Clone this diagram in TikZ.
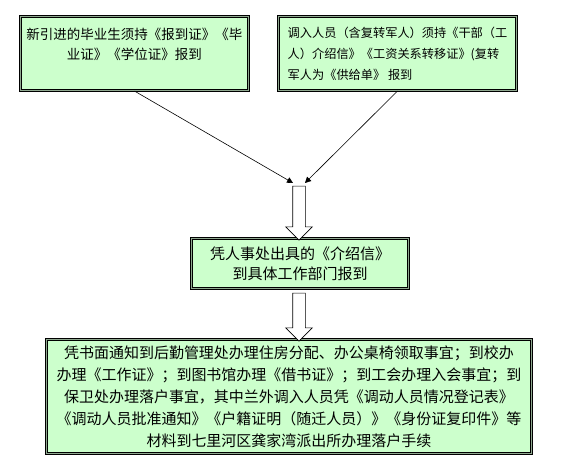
\documentclass[tikz,border=0pt]{standalone}
\usepackage{fontspec}
\setmainfont{Noto Sans CJK SC}
\usepackage{tikz}
\usetikzlibrary{calc,positioning,shapes.arrows,arrows.meta}
\definecolor{boxgreen}{HTML}{CCFFCC}
\definecolor{rimgray}{HTML}{8FA88F}
\tikzset{
 flow box/.style={rectangle,fill=boxgreen,draw=black,line width=1.1pt,
                  double=rimgray,double distance=1.2pt,inner sep=0pt},
 feed line/.style={line width=.6pt,-{Triangle[length=6pt,width=6pt]}},
 hollow arrow/.style={single arrow,draw=black,fill=white,line width=.6pt,
                      rotate=-90,minimum width=26pt,single arrow head extend=7pt,
                      inner xsep=0pt,inner ysep=6pt}
}
\begin{document}
\begin{tikzpicture}[x=1pt,y=-1pt]
 \useasboundingbox (0,0) rectangle (582,475);
 % two entry routes at the top, merging into one report step
 \node[flow box,minimum width=228pt,minimum height=74pt,align=center,
       font=\fontsize{13.5}{20}\selectfont] (b1) at (134.5,53.5)
   {新引进的毕业生须持《报到证》《毕\\业证》《学位证》报到\\\phantom{业}};
 \node[flow box,minimum width=238pt,minimum height=74pt,align=left,
       font=\fontsize{12.2}{21}\selectfont] (b2) at (397.5,53.5)
   {调入人员（含复转军人）须持《干部（工\\人）介绍信》《工资关系转移证》(复转\\军人为《供给单》 报到};
 \node[flow box,minimum width=217pt,minimum height=50pt,align=center,
       font=\fontsize{15}{20}\selectfont] (b3) at (300,263.5)
   {凭人事处出具的《介绍信》\\到具体工作部门报到};
 \node[flow box,minimum width=485pt,minimum height=114pt,align=center,
       font=\fontsize{15}{22}\selectfont] (b4) at (289,396.5)
   {凭书面通知到后勤管理处办理住房分配、办公桌椅领取事宜；到校办\\
    办理《工作证》；到图书馆办理《借书证》；到工会办理入会事宜；到\\
    保卫处办理落户事宜，其中兰外调入人员凭《调动人员情况登记表》\\
    《调动人员批准通知》《户籍证明（随迁人员）》《身份证复印件》等\\
    材料到七里河区龚家湾派出所办理落户手续};

 \coordinate (m1) at (293,183);
 \coordinate (m2) at (305,183);
 \draw[feed line] (b1.south) -- (m1);
 \draw[feed line] (b2.south) -- (m2);

 \node[hollow arrow,minimum height=54pt] (ar1) at (299,210) {};
 \node[hollow arrow,minimum height=48pt] (ar2) at (299,314) {};
\end{tikzpicture}
\end{document}
